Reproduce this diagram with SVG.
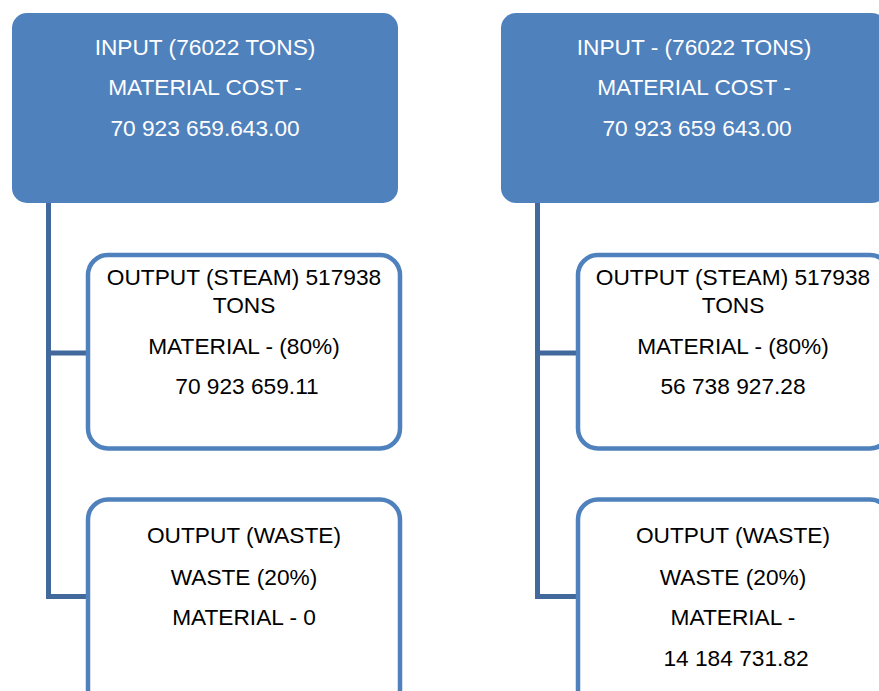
<svg xmlns="http://www.w3.org/2000/svg" width="879" height="691" viewBox="0 0 879 691">
<style>
.top{fill:#4F81BD;}
.child{fill:#FFFFFF;stroke:#4F81BD;stroke-width:4.5;}
.conn{fill:none;stroke:#41699B;stroke-width:5;stroke-linejoin:miter;}
text{font-family:"Liberation Sans",Arial,sans-serif;font-size:22.7px;text-anchor:middle;}
.wt{fill:#FFFFFF;}
.bt{fill:#000000;}
</style>
<rect width="879" height="691" fill="#FFFFFF"/>
<g id="connectors">
<path class="conn" d="M48.5,203 V596.5 H88 M48.5,353 H88"/>
<path class="conn" d="M537.5,203 V596.5 H578 M537.5,353 H578"/>
</g>
<g id="input-left">
<rect class="top" x="12" y="13" width="386" height="190" rx="15"/>
<text class="wt" x="205" y="55">INPUT (76022 TONS)</text>
<text class="wt" x="205" y="95">MATERIAL COST -</text>
<text class="wt" x="205" y="136">70 923 659.643.00</text>
</g>
<g id="steam-left">
<rect class="child" x="88" y="255" width="312" height="193.5" rx="20"/>
<text class="bt" x="244" y="285">OUTPUT (STEAM) 517938</text>
<text class="bt" x="244" y="313">TONS</text>
<text class="bt" x="244" y="354">MATERIAL - (80%)</text>
<text class="bt" x="247" y="394">70 923 659.11</text>
</g>
<g id="waste-left">
<rect class="child" x="88" y="499.5" width="312" height="210" rx="20"/>
<text class="bt" x="244" y="543">OUTPUT (WASTE)</text>
<text class="bt" x="244" y="585">WASTE (20%)</text>
<text class="bt" x="244" y="625">MATERIAL - 0</text>
</g>
<g id="input-right">
<rect class="top" x="501" y="13" width="386" height="190" rx="15"/>
<text class="wt" x="694" y="55">INPUT - (76022 TONS)</text>
<text class="wt" x="694" y="95">MATERIAL COST -</text>
<text class="wt" x="697" y="136">70 923 659 643.00</text>
</g>
<g id="steam-right">
<rect class="child" x="578" y="255" width="312" height="193.5" rx="20"/>
<text class="bt" x="733" y="285">OUTPUT (STEAM) 517938</text>
<text class="bt" x="733" y="313">TONS</text>
<text class="bt" x="733" y="354">MATERIAL - (80%)</text>
<text class="bt" x="733" y="394">56 738 927.28</text>
</g>
<g id="waste-right">
<rect class="child" x="578" y="499.5" width="312" height="210" rx="20"/>
<text class="bt" x="733" y="543">OUTPUT (WASTE)</text>
<text class="bt" x="733" y="585">WASTE (20%)</text>
<text class="bt" x="733" y="625">MATERIAL -</text>
<text class="bt" x="736" y="666">14 184 731.82</text>
</g>
</svg>
